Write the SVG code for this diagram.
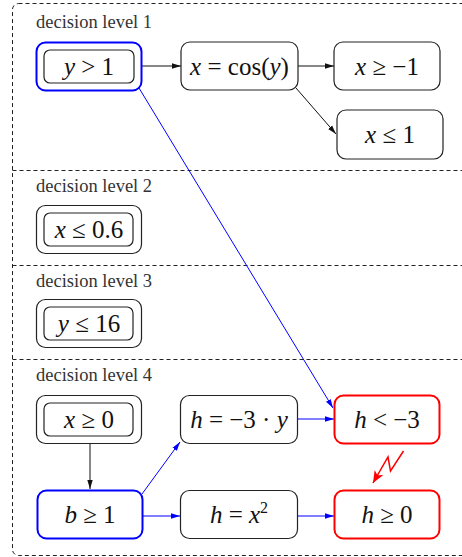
<svg xmlns="http://www.w3.org/2000/svg" width="462" height="557" viewBox="0 0 462 557">
<style>
.frame{fill:none;stroke:#222;stroke-width:1;stroke-dasharray:4,3}
.lvl{font-family:"Liberation Serif","DejaVu Serif",serif;font-size:18.5px;fill:#333}
.m{font-family:"Liberation Serif","DejaVu Serif",serif;font-size:25px;fill:#111;text-anchor:middle}
.v{font-style:italic}
.n{fill:#fff;stroke:#222;stroke-width:1.2}
.nb{fill:#fff;stroke:#0000ff;stroke-width:2}
.nr{fill:#fff;stroke:#ff0000;stroke-width:2}
.ek{stroke:#111;stroke-width:1;fill:none;marker-end:url(#ak)}
.eb{stroke:#0000ff;stroke-width:1;fill:none;marker-end:url(#ab)}
</style>
<defs>
<marker id="ak" markerUnits="userSpaceOnUse" markerWidth="10" markerHeight="8" refX="9" refY="4" orient="auto"><path d="M0,1.3 L9,4 L0,6.7 Z" fill="#111"/></marker>
<marker id="ab" markerUnits="userSpaceOnUse" markerWidth="10" markerHeight="8" refX="9" refY="4" orient="auto"><path d="M0,1.3 L9,4 L0,6.7 Z" fill="#0000ff"/></marker>
<marker id="ar" markerUnits="userSpaceOnUse" markerWidth="14" markerHeight="12" refX="12" refY="6" orient="auto"><path d="M0,1 L12,6 L0,11 L3,6 Z" fill="#ff0000"/></marker>
</defs>
<g id="frame">
<rect class="frame" x="12.5" y="3.5" width="480" height="552" rx="6"/>
<line class="frame" x1="12.5" y1="170.5" x2="462" y2="170.5"/>
<line class="frame" x1="12.5" y1="265.5" x2="462" y2="265.5"/>
<line class="frame" x1="12.5" y1="359.5" x2="462" y2="359.5"/>
<text class="lvl" x="36" y="28">decision level 1</text>
<text class="lvl" x="36" y="192">decision level 2</text>
<text class="lvl" x="36" y="287">decision level 3</text>
<text class="lvl" x="36" y="381">decision level 4</text>
</g>
<g id="connectors">
<line class="ek" x1="142" y1="66" x2="181" y2="66"/>
<line class="ek" x1="298" y1="66" x2="334" y2="66"/>
<line class="ek" x1="296" y1="88" x2="336" y2="134"/>
<line class="eb" x1="139" y1="88" x2="333" y2="408"/>
<line class="ek" x1="90" y1="443" x2="90" y2="489"/>
<line class="eb" x1="142" y1="494" x2="180" y2="442"/>
<line class="eb" x1="143" y1="516" x2="180" y2="516"/>
<line class="eb" x1="298" y1="419" x2="334" y2="419"/>
<line class="eb" x1="298" y1="516" x2="334" y2="516"/>
<polyline points="403.5,451 390.5,471 388,457 373,483" fill="none" stroke="#ff0000" stroke-width="1.5" marker-end="url(#ar)"/>
</g>
<g id="n_y1">
<rect class="nb" x="36.5" y="42.5" width="105" height="48" rx="9"/>
<rect class="n" x="44" y="50" width="90" height="33" rx="6"/>
<text class="m" x="89" y="75"><tspan class="v">y</tspan> &gt; 1</text>
</g>
<g id="n_cos">
<rect class="n" x="181" y="42" width="117" height="48" rx="9"/>
<text class="m" x="239.5" y="75"><tspan class="v">x</tspan> = cos(<tspan class="v">y</tspan>)</text>
</g>
<g id="n_xge">
<rect class="n" x="334" y="42" width="106" height="48" rx="9"/>
<text class="m" x="387" y="75"><tspan class="v">x</tspan> ≥ −1</text>
</g>
<g id="n_xle">
<rect class="n" x="337" y="110" width="106" height="49" rx="9"/>
<text class="m" x="390" y="143"><tspan class="v">x</tspan> ≤ 1</text>
</g>
<g id="n_x06">
<rect class="n" x="36.5" y="205.5" width="105" height="48" rx="9"/>
<rect class="n" x="44" y="213" width="89" height="33" rx="6"/>
<text class="m" x="89" y="238"><tspan class="v">x</tspan> ≤ 0.6</text>
</g>
<g id="n_y16">
<rect class="n" x="36.5" y="299.5" width="105" height="48" rx="9"/>
<rect class="n" x="44" y="307" width="89" height="33" rx="6"/>
<text class="m" x="89" y="332"><tspan class="v">y</tspan> ≤ 16</text>
</g>
<g id="n_x0">
<rect class="n" x="36.5" y="395.5" width="105" height="48" rx="9"/>
<rect class="n" x="44" y="403" width="89" height="33" rx="6"/>
<text class="m" x="89" y="428"><tspan class="v">x</tspan> ≥ 0</text>
</g>
<g id="n_b1">
<rect class="nb" x="37.5" y="490.5" width="105" height="48" rx="9"/>
<text class="m" x="90" y="523"><tspan class="v">b</tspan> ≥ 1</text>
</g>
<g id="n_h3y">
<rect class="n" x="180.5" y="395.5" width="117" height="48" rx="9"/>
<text class="m" x="239" y="428"><tspan class="v">h</tspan> = −3 · <tspan class="v">y</tspan></text>
</g>
<g id="n_hlt">
<rect class="nr" x="334.5" y="395.5" width="105" height="48" rx="9"/>
<text class="m" x="387" y="428"><tspan class="v">h</tspan> &lt; −3</text>
</g>
<g id="n_hx2">
<rect class="n" x="180.5" y="490.5" width="117" height="48" rx="9"/>
<text class="m" x="239" y="523"><tspan class="v">h</tspan> = <tspan class="v">x</tspan><tspan font-size="16" dy="-10">2</tspan></text>
</g>
<g id="n_hge">
<rect class="nr" x="334.5" y="490.5" width="105" height="48" rx="9"/>
<text class="m" x="387" y="523"><tspan class="v">h</tspan> ≥ 0</text>
</g>
</svg>
